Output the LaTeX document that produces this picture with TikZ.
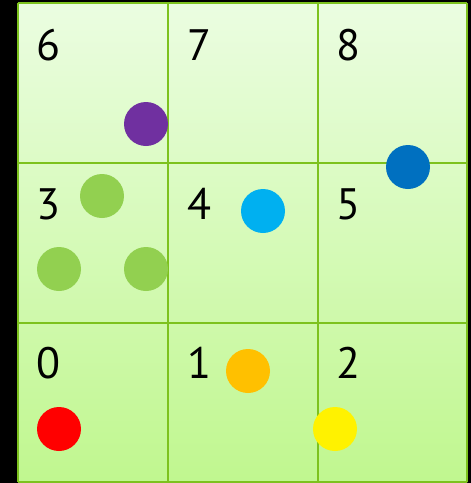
\documentclass[tikz,border=0pt]{standalone}
\usepackage{fontspec}
\setmainfont{PT Sans}
\begin{document}
\begin{tikzpicture}[x=1pt,y=-1pt,
  dot/.style={circle,inner sep=0pt,minimum size=44pt,fill=#1},
  lab/.style={font=\fontsize{44}{44}\selectfont,inner sep=0pt,anchor=base},
  gridline/.style={draw=lineg,line width=2pt}]
\definecolor{lineg}{HTML}{7DC21E}
\definecolor{topg}{HTML}{EBFDE1}
\definecolor{botg}{HTML}{C0F78F}
\definecolor{opurple}{HTML}{7030A0}
\definecolor{ogreen}{HTML}{92D050}
\definecolor{ocyan}{HTML}{00B0F0}
\definecolor{oblue}{HTML}{0070C0}
\definecolor{oorange}{HTML}{FFC000}
\useasboundingbox (0,0) rectangle (471,483);
\fill[black] (0,0) rectangle (471,483);
\shade[top color=topg,bottom color=botg] (18,3) rectangle (467,482);
\foreach \x in {18,168,318,467} \draw[gridline] (\x,3) -- (\x,482);
\foreach \y in {3,163,323,482} \draw[gridline] (18,\y) -- (467,\y);
\node[lab] (l6) at (48,60) {6};
\node[lab] (l7) at (199,60) {7};
\node[lab] (l8) at (348,60) {8};
\node[lab] (l3) at (48,219) {3};
\node[lab] (l4) at (199,219) {4};
\node[lab] (l5) at (348,219) {5};
\node[lab] (l0) at (48,378) {0};
\node[lab] (l1) at (199,378) {1};
\node[lab] (l2) at (348,378) {2};
\node[dot=opurple] (p) at (146,124) {};
\node[dot=ogreen] (g1) at (102,196) {};
\node[dot=ogreen] (g2) at (59,269) {};
\node[dot=ogreen] (g3) at (146,269) {};
\node[dot=ocyan] (c) at (263,211) {};
\node[dot=oblue] (b) at (408,167) {};
\node[dot=oorange] (o) at (248,371) {};
\node[dot=red] (r) at (59,429) {};
\node[dot=yellow] (y) at (335,429) {};
\end{tikzpicture}
\end{document}
